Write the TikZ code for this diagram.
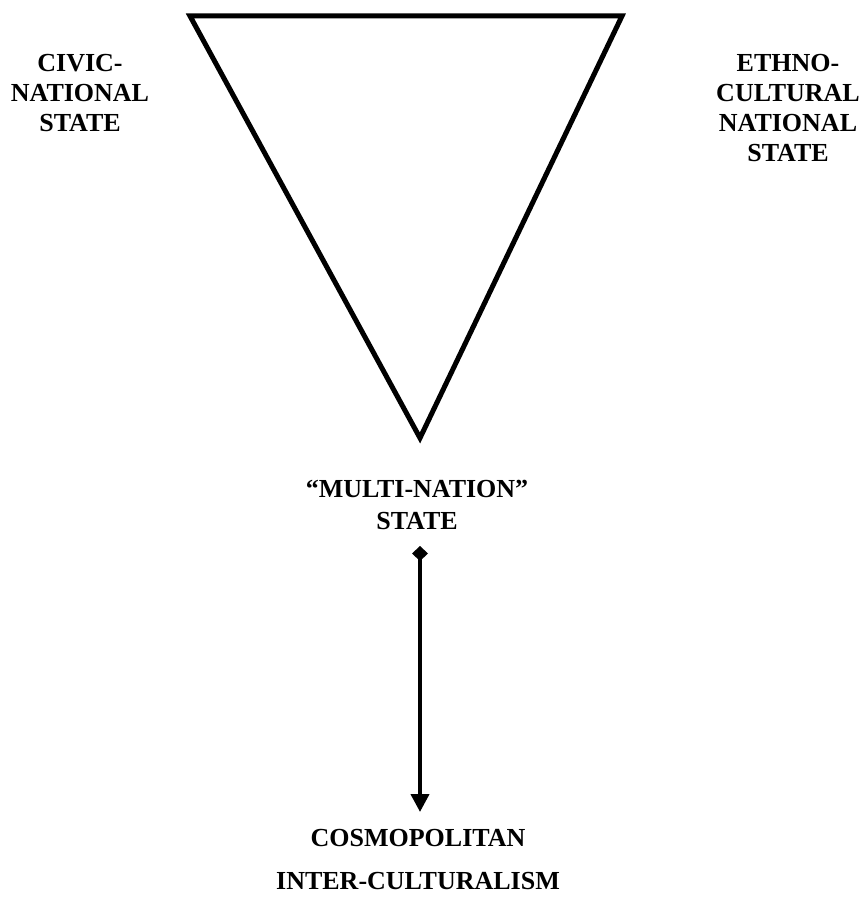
\documentclass[tikz,border=0pt]{standalone}
\usepackage{fontspec}
\setmainfont{Liberation Serif}
\usetikzlibrary{arrows.meta}
\begin{document}
\begin{tikzpicture}[x=1pt,y=-1pt,
  lbl/.style={font=\bfseries\fontsize{26}{30}\selectfont, align=center, inner sep=0pt, anchor=north},
  lblmid/.style={lbl, font=\bfseries\fontsize{26}{32}\selectfont},
  tri/.style={line width=5pt, line join=miter},
  conn/.style={line width=4pt, {Diamond[length=15pt,width=16pt]}-{Triangle[length=18pt,width=18pt]}}]
\useasboundingbox (0,0) rectangle (864,899);
\coordinate (tl) at (190,16);
\coordinate (tr) at (622,16);
\coordinate (bt) at (420,438);
\draw[tri] (tl) -- (tr) -- (bt) -- cycle;
\node[lbl] (civic) at (80,54) {CIVIC-\\NATIONAL\\STATE};
\node[lbl] (ethno) at (788,54) {ETHNO-\\CULTURAL\\NATIONAL\\STATE};
\node[lblmid] (multi) at (417,480) {“MULTI-NATION”\\STATE};
\node[lbl] (cosmo) at (418,829) {COSMOPOLITAN};
\node[lbl] (inter) at (418,872) {INTER-CULTURALISM};
\coordinate (a1) at (420,546);
\coordinate (a2) at (420,812);
\draw[conn] (a1) -- (a2);
\end{tikzpicture}
\end{document}
